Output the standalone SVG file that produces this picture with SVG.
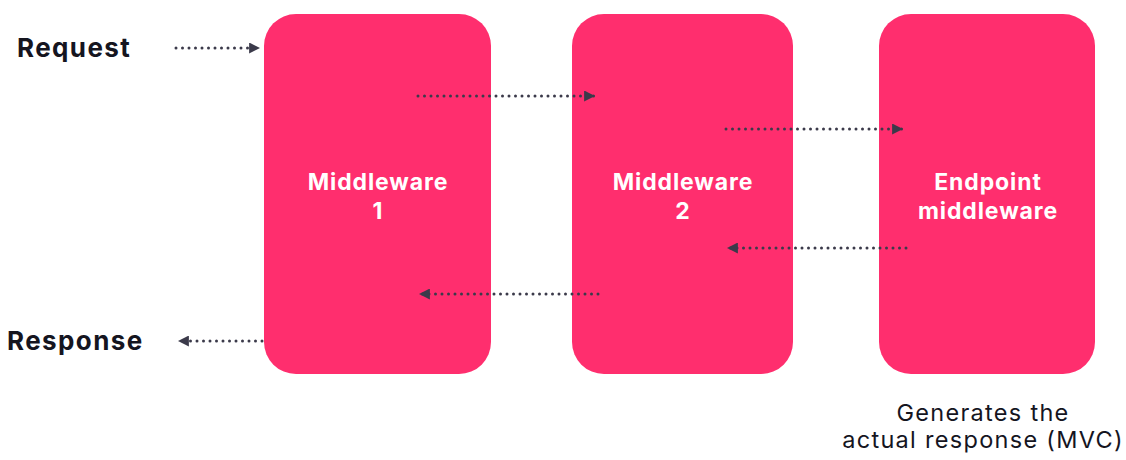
<svg xmlns="http://www.w3.org/2000/svg" width="1126" height="460" viewBox="0 0 1126 460">
<defs>
<style>
.box{fill:#FF2E6E}
.lbl{font-family:Inter,"Liberation Sans",sans-serif;font-weight:700;font-size:23px;letter-spacing:0.9px;fill:#fff;text-anchor:middle}
.side{font-family:Inter,"Liberation Sans",sans-serif;font-weight:700;font-size:26px;letter-spacing:1.4px;fill:#15151f}
.note{font-family:Inter,"Liberation Sans",sans-serif;font-weight:400;font-size:23.5px;letter-spacing:1.3px;fill:#15151f;text-anchor:middle}
.con{stroke:#3b3a4a;stroke-width:3;stroke-linecap:round;stroke-dasharray:0 6.5;fill:none}
</style>
<marker id="ah" viewBox="0 0 10 10" refX="9" refY="5" markerWidth="11" markerHeight="11" markerUnits="userSpaceOnUse" orient="auto">
<path d="M0,0 L10,5 L0,10 z" fill="#3b3a4a"/>
</marker>
</defs>
<rect width="1126" height="460" fill="#fff"/>
<g id="request"><text class="side" x="17" y="57">Request</text></g>
<g id="response"><text class="side" x="7" y="350">Response</text></g>
<g id="mw1"><rect class="box" x="264" y="14" width="227" height="360" rx="32"/><text class="lbl" x="378" y="190">Middleware</text><text class="lbl" x="378" y="219">1</text></g>
<g id="mw2"><rect class="box" x="572" y="14" width="221" height="360" rx="32"/><text class="lbl" x="683" y="190">Middleware</text><text class="lbl" x="683" y="219">2</text></g>
<g id="endpoint"><rect class="box" x="879" y="14" width="216" height="360" rx="32"/><text class="lbl" x="988" y="190">Endpoint</text><text class="lbl" x="988" y="219">middleware</text></g>
<g id="note"><text class="note" x="983" y="421">Generates the</text><text class="note" x="983" y="448">actual response (MVC)</text></g>
<g id="connectors">
<path class="con" d="M176,48 H259" marker-end="url(#ah)"/>
<path class="con" d="M418,96 H594" marker-end="url(#ah)"/>
<path class="con" d="M726,129 H902" marker-end="url(#ah)"/>
<path class="con" d="M906,248 H728" marker-end="url(#ah)"/>
<path class="con" d="M598,294 H420" marker-end="url(#ah)"/>
<path class="con" d="M262,341 H179" marker-end="url(#ah)"/>
</g>
</svg>
